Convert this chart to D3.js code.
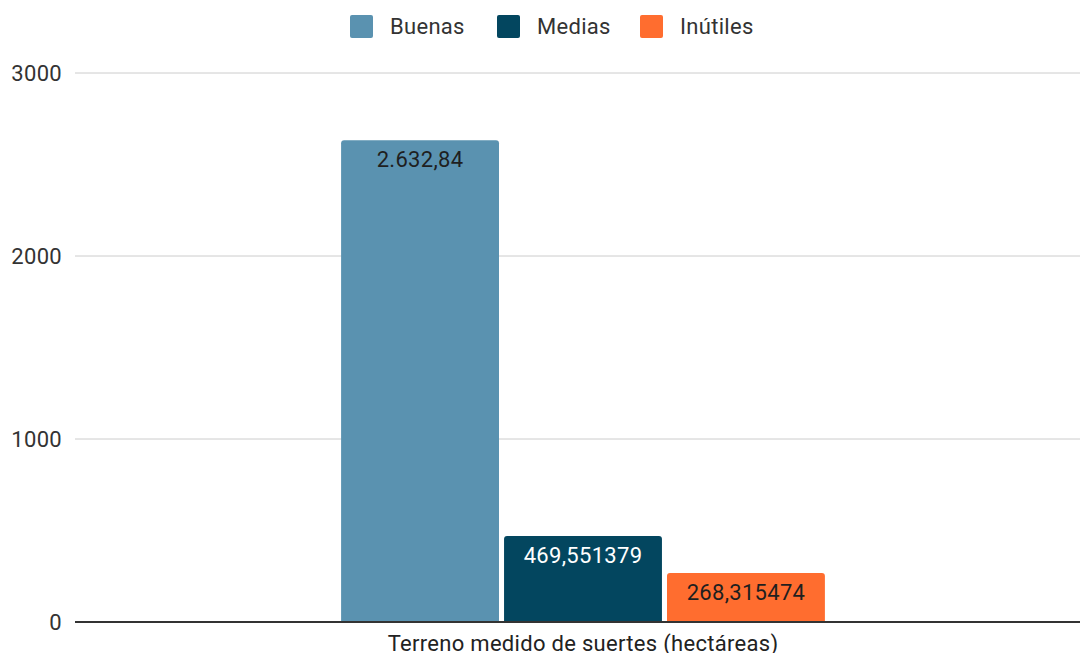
<!DOCTYPE html>
<html>
<head>
<meta charset="utf-8">
<script src="https://cdn.jsdelivr.net/npm/d3@7"></script>
<style>
  body { margin: 0; background: #fff; }
  svg text { font-family: Roboto, "Noto Sans", sans-serif; letter-spacing: 0.3px; }
</style>
</head>
<body>
<div id="chart"></div>
<script>
// data
var categories = ["Terreno medido de suertes (hectáreas)"];
var seriesNames = ["Buenas", "Medias", "Inútiles"];
var seriesValues = [2632.84, 469.551379, 268.315474];
var valueLabels = ["2.632,84", "469,551379", "268,315474"];
var yTicks = [0, 1000, 2000, 3000];

var colors = ["#5a92b0", "#03465f", "#ff6d2f"];
var labelColors = ["#1f1f1f", "#ffffff", "#1f1f1f"];

var w = 1080, h = 653;
var padLeft = 75, padRight = 1091, padTop = 73, padBottom = 622;

var svg = d3.select("#chart").append("svg")
    .attr("width", w).attr("height", h);

var y = d3.scaleLinear().domain([0, 3000]).range([padBottom, padTop]);
var x0 = d3.scaleBand().domain(categories).range([padLeft, padRight]).paddingInner(0).paddingOuter(0.55);
var x1 = d3.scaleBand().domain(seriesNames).range([0, x0.bandwidth()]).paddingInner(0.031);

// gridlines
svg.append("g").selectAll("line")
    .data(yTicks.filter(function (d) { return d > 0; }))
    .enter().append("line")
    .attr("x1", padLeft).attr("x2", w)
    .attr("y1", function (d) { return y(d); })
    .attr("y2", function (d) { return y(d); })
    .attr("stroke", "#cccccc").attr("stroke-width", 1);

// y tick labels
svg.append("g").selectAll("text")
    .data(yTicks)
    .enter().append("text")
    .attr("x", 62)
    .attr("y", function (d) { return y(d); })
    .attr("dy", "0.35em")
    .attr("text-anchor", "end")
    .attr("font-size", 22)
    .attr("fill", "#333")
    .text(function (d) { return d; });

// bars with rounded top corners
var r = 3;
var g = svg.append("g").attr("transform", "translate(" + x0(categories[0]) + ",0)");
g.selectAll("path")
    .data(seriesValues)
    .enter().append("path")
    .attr("fill", function (d, i) { return colors[i]; })
    .attr("d", function (d, i) {
        var bx = x1(seriesNames[i]), bw = x1.bandwidth(), by = y(d), bh = y(0) - y(d);
        return "M" + bx + "," + (by + bh) +
            "V" + (by + r) +
            "Q" + bx + "," + by + " " + (bx + r) + "," + by +
            "H" + (bx + bw - r) +
            "Q" + (bx + bw) + "," + by + " " + (bx + bw) + "," + (by + r) +
            "V" + (by + bh) + "Z";
    });

// value labels
g.selectAll("text")
    .data(seriesValues)
    .enter().append("text")
    .attr("x", function (d, i) { return x1(seriesNames[i]) + x1.bandwidth() / 2; })
    .attr("y", function (d) { return y(d) + 27; })
    .attr("text-anchor", "middle")
    .attr("font-size", 22)
    .attr("fill", function (d, i) { return labelColors[i]; })
    .text(function (d, i) { return valueLabels[i]; });

// baseline
svg.append("line")
    .attr("x1", padLeft).attr("x2", w)
    .attr("y1", y(0)).attr("y2", y(0))
    .attr("stroke", "#333").attr("stroke-width", 2);

// category label
svg.append("text")
    .attr("x", x0(categories[0]) + x0.bandwidth() / 2)
    .attr("y", 651)
    .attr("text-anchor", "middle")
    .attr("font-size", 22)
    .attr("fill", "#222")
    .text(categories[0]);

// legend
var legendX = [350, 497, 640];
var legend = svg.append("g").selectAll("g")
    .data(seriesNames)
    .enter().append("g")
    .attr("transform", function (d, i) { return "translate(" + legendX[i] + ",15)"; });
legend.append("rect")
    .attr("width", 23).attr("height", 23).attr("rx", 2)
    .attr("fill", function (d, i) { return colors[i]; });
legend.append("text")
    .attr("x", 40).attr("y", 11.5).attr("dy", "0.35em")
    .attr("font-size", 22)
    .attr("fill", "#333")
    .text(function (d) { return d; });
</script>
</body>
</html>
